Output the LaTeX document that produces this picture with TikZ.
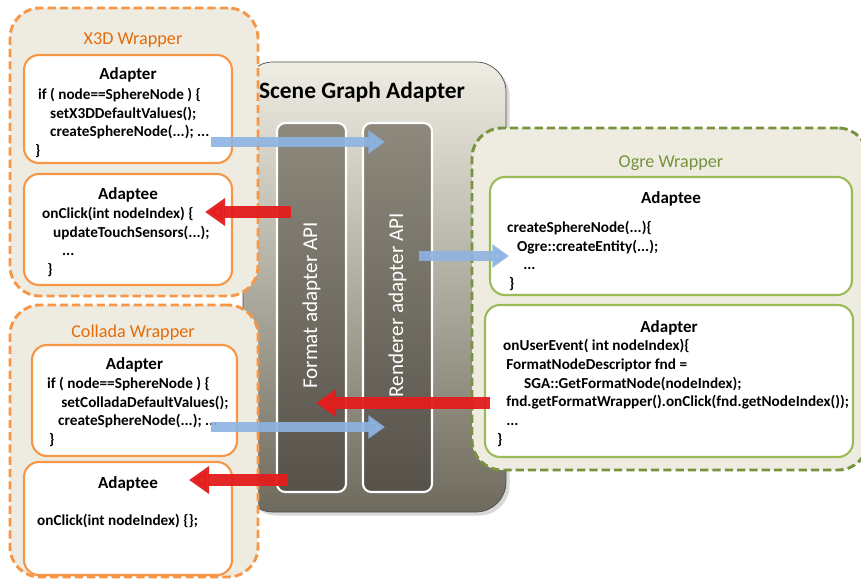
\documentclass[tikz,border=0pt]{standalone}
\usepackage{fontspec}
\setmainfont{Carlito}
\usetikzlibrary{arrows.meta,calc,fit,positioning,shadows}

\definecolor{wrapfill}{HTML}{EEECE1}
\definecolor{orangeline}{HTML}{F79646}
\definecolor{orangetext}{HTML}{E46C0A}
\definecolor{greenline}{HTML}{9BBB59}
\definecolor{greendash}{HTML}{77933C}
\definecolor{greentext}{HTML}{76923C}
\definecolor{bluearrow}{HTML}{8DB3E2}
\definecolor{redarrow}{HTML}{E31D1D}
\definecolor{sgatop}{HTML}{EFEDE3}
\definecolor{sgamid}{HTML}{C4C0B0}
\definecolor{sgabottom}{HTML}{6E6A5D}
\definecolor{coltop}{HTML}{8E897C}
\definecolor{colbottom}{HTML}{56524A}

\begin{document}
\begin{tikzpicture}[
  x=0.03cm, y=-0.03cm,
  wrapper/.style={rectangle, rounded corners=0.9cm, fill=wrapfill, line width=2.5pt, dash pattern=on 7pt off 3.5pt, inner sep=0pt},
  orangewrap/.style={wrapper, draw=orangeline},
  greenwrap/.style={wrapper, draw=greendash},
  innerbox/.style={rectangle, rounded corners=0.45cm, fill=white, line width=1.8pt, inner sep=0pt},
  orangebox/.style={innerbox, draw=orangeline},
  greenbox/.style={innerbox, draw=greenline},
  sgabox/.style={rectangle, rounded corners=0.9cm, draw=black!70, line width=0.6pt, top color=sgatop, middle color=sgamid, bottom color=sgabottom, inner sep=0pt, drop shadow={opacity=0.3, shadow xshift=3pt, shadow yshift=-3pt}},
  apicol/.style={rectangle, rounded corners=0.25cm, draw=white, line width=1.8pt, top color=coltop, bottom color=colbottom, inner sep=0pt},
  apilabel/.style={rotate=90, text=white, font=\fontsize{18}{22}\selectfont},
  sgatitle/.style={font=\fontsize{20}{24}\selectfont\bfseries},
  wraptitle/.style={font=\fontsize{15.5}{18}\selectfont},
  head/.style={font=\fontsize{14.5}{17}\selectfont\bfseries, inner sep=0pt},
  code/.style={font=\fontsize{13}{16}\selectfont\bfseries, align=left, inner sep=0pt, anchor=west},
  bluearr/.style={draw=bluearrow, opacity=0.9, line width=0.3cm, -{Triangle[length=0.5cm, width=0.68cm]}},
  redarr/.style={draw=redarrow, opacity=0.95, line width=0.36cm, -{Triangle[length=0.6cm, width=0.8cm]}}
]
  \useasboundingbox (0,0) rectangle (861,580);

  % scene graph adapter in the middle
  \node (sga) [sgabox, fit={(243,62) (506,512)}] {};
  \node (sgalabel) [sgatitle] at (362,92) {Scene Graph Adapter};
  \node (fmtcol) [apicol, fit={(277,123) (346,492)}] {};
  \node (rendcol) [apicol, fit={(363,123) (432,492)}] {};
  \node (fmtlabel) [apilabel] at ($(fmtcol.center)+(0,-2)$) {Format adapter API};
  \node (rendlabel) [apilabel] at ($(rendcol.center)+(0,-2)$) {Renderer adapter API};

  % X3D wrapper
  \node (x3dwrap) [orangewrap, fit={(10,8) (258,296)}] {};
  \node (x3dtitle) [wraptitle, text=orangetext] at (133,40) {X3D Wrapper};
  \node (x3dadapter) [orangebox, fit={(24,55) (232,163)}] {};
  \node (x3dadapterhead) [head] at ($(x3dadapter.north)+(0,21)$) {Adapter};
  \node (x3dadaptercode) [code] at (35,123)
    {\hspace*{2.5pt}if ( node==SphereNode ) \{\\
     \hspace*{12.8pt}setX3DDefaultValues();\\
     \hspace*{12.8pt}createSphereNode(...); ...\\
     \}};
  \node (x3dadaptee) [orangebox, fit={(24,174) (232,285)}] {};
  \node (x3dadapteehead) [head] at ($(x3dadaptee.north)+(0,22)$) {Adaptee};
  \node (x3dadapteecode) [code] at (42,242)
    {onClick(int nodeIndex) \{\\
     \hspace*{9.4pt}updateTouchSensors(...);\\
     \hspace*{17pt}...\\
     \hspace*{4.3pt}\}};

  % Collada wrapper
  \node (colwrap) [orangewrap, fit={(10,305) (258,577)}] {};
  \node (coltitle) [wraptitle, text=orangetext] at (133,333) {Collada Wrapper};
  \node (colladapter) [orangebox, fit={(32,345) (237,456)}] {};
  \node (colladapterhead) [head] at ($(colladapter.north)+(0,21)$) {Adapter};
  \node (colladaptercode) [code] at (47,412)
    {if ( node==SphereNode ) \{\\
     \hspace*{12pt}setColladaDefaultValues();\\
     \hspace*{9.4pt}createSphereNode(...); ...\\
     \hspace*{1.7pt}\}};
  \node (coladaptee) [orangebox, fit={(24,462) (232,575)}] {};
  \node (coladapteehead) [head] at ($(coladaptee.north)+(0,23)$) {Adaptee};
  \node (coladapteecode) [code] at (37,521) {onClick(int nodeIndex) \{\};};

  % Ogre wrapper
  \node (ogrewrap) [greenwrap, fit={(472,128) (868,470)}] {};
  \node (ogretitle) [wraptitle, text=greentext] at (671,163) {Ogre Wrapper};
  \node (ogreadaptee) [greenbox, fit={(490,177) (852,295)}] {};
  \node (ogreadapteehead) [head] at ($(ogreadaptee.north)+(0,23)$) {Adaptee};
  \node (ogreadapteecode) [code] at (507,256)
    {createSphereNode(...)\{\\
     \hspace*{8.5pt}Ogre::createEntity(...);\\
     \hspace*{13.7pt}...\\
     \hspace*{1.7pt}\}};
  \node (ogreadapter) [greenbox, fit={(485,305) (853,457)}] {};
  \node (ogreadapterhead) [head] at ($(ogreadapter.north)+(0,24)$) {Adapter};
  \node (ogreadaptercode) [code] at (497,393)
    {\hspace*{5.1pt}onUserEvent( int nodeIndex)\{\\
     \hspace*{7.7pt}FormatNodeDescriptor fnd =\\
     \hspace*{23pt}SGA::GetFormatNode(nodeIndex);\\
     \hspace*{7.7pt}fnd.getFormatWrapper().onClick(fnd.getNodeIndex());\\
     \hspace*{7.7pt}...\\
     \}};

  % calls into the renderer side
  \draw [bluearr] ($(x3dadapter.east)+(-22,33)$) -- ($(rendcol.west |- x3dadapter.east)+(23,33)$);
  \draw [bluearr] ($(colladapter.east)+(-27,26.5)$) -- ($(rendcol.west |- colladapter.east)+(23,26.5)$);
  \draw [bluearr] ($(rendcol.east)+(-14,-51.5)$) -- ($(ogreadaptee.west)+(20,20)$);

  % events back to the format side
  \draw [redarr] ($(ogreadapter.west)+(6,22)$) -- ($(fmtcol.east)+(-31,95.5)$);
  \draw [redarr] ($(fmtcol.west)+(15,-95.5)$) -- ($(x3dadaptee.east)+(-28,-17.5)$);
  \draw [redarr] ($(fmtcol.west)+(12,172.5)$) -- ($(coladaptee.east)+(-44,-38.5)$);
\end{tikzpicture}
\end{document}
